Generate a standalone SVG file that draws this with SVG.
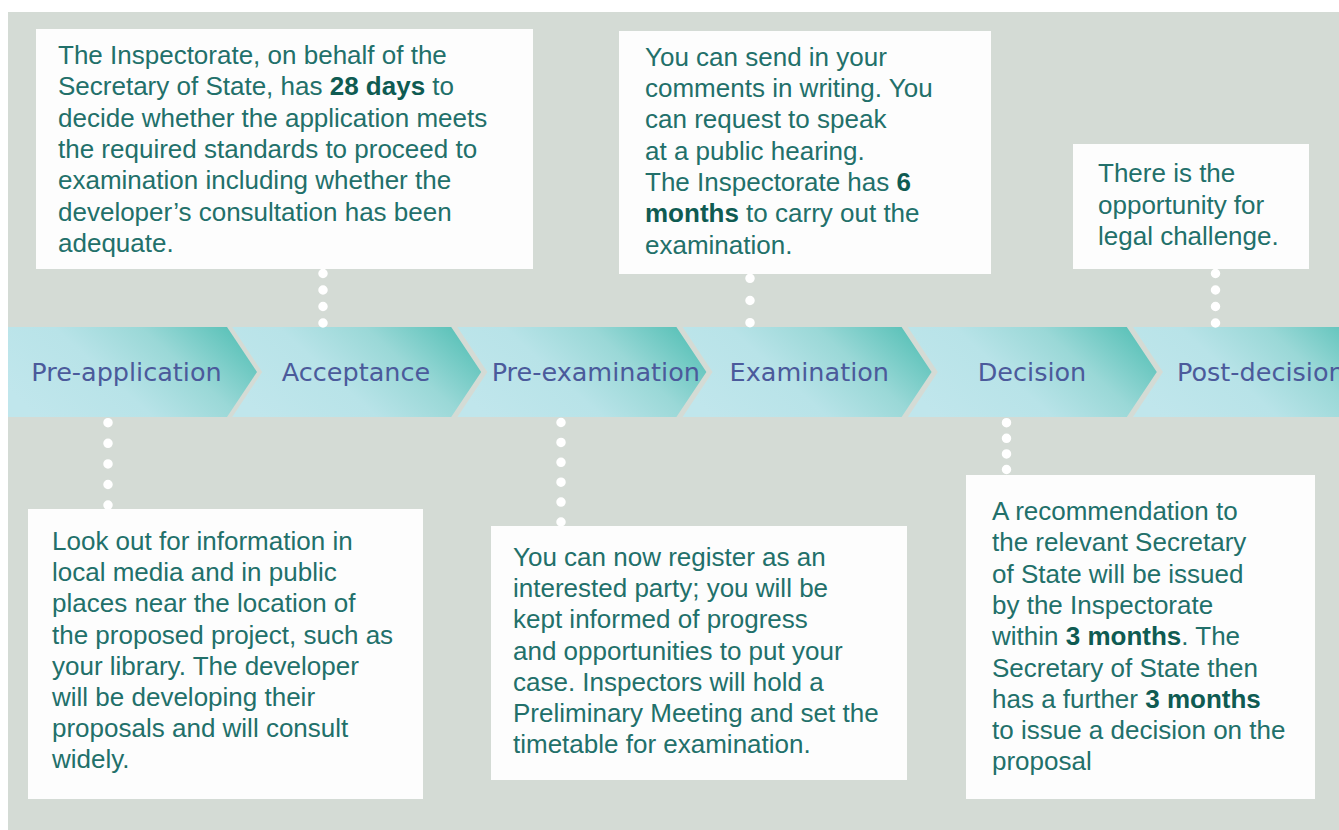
<svg xmlns="http://www.w3.org/2000/svg" width="1339" height="830" viewBox="0 0 1339 830">
<defs>
<linearGradient id="chev" x1="0" y1="0.7" x2="1" y2="0.3">
<stop offset="0" stop-color="#c0e6ec"/>
<stop offset="0.4" stop-color="#b8e3e8"/>
<stop offset="0.7" stop-color="#9ad8d7"/>
<stop offset="1" stop-color="#5ec3ba"/>
</linearGradient>
<style>
.bg{fill:#d4dbd5}
.chev{fill:url(#chev)}
.lbl{font-family:"DejaVu Sans",Verdana,sans-serif;font-size:25.5px;fill:#4b5a9b}
.box{fill:#fdfdfd}
.txt{font-family:"Liberation Sans",Arial,sans-serif;font-size:26px;fill:#22706a}
.b{font-weight:bold;fill:#0f5b52}
.dots{stroke:#ffffff;stroke-width:9.5;stroke-linecap:round;fill:none}
</style>
</defs>
<rect width="1339" height="830" fill="#ffffff"/>
<rect class="bg" x="8" y="12" width="1331" height="818"/>

<g id="stages">
<g id="stage-pre-application">
<path class="chev" d="M8,327 L227,327 L257,372 L227,417 L8,417 Z"/>
<text class="lbl" x="126.5" y="381" text-anchor="middle">Pre-application</text>
</g>
<g id="stage-acceptance">
<path class="chev" d="M232.2,327 L451.2,327 L481.2,372 L451.2,417 L232.2,417 L262.2,372 Z"/>
<text class="lbl" x="356" y="381" text-anchor="middle">Acceptance</text>
</g>
<g id="stage-pre-examination">
<path class="chev" d="M457.4,327 L676.4,327 L706.4,372 L676.4,417 L457.4,417 L487.4,372 Z"/>
<text class="lbl" x="595.8" y="381" text-anchor="middle">Pre-examination</text>
</g>
<g id="stage-examination">
<path class="chev" d="M682.6,327 L901.6,327 L931.6,372 L901.6,417 L682.6,417 L712.6,372 Z"/>
<text class="lbl" x="809.3" y="381" text-anchor="middle">Examination</text>
</g>
<g id="stage-decision">
<path class="chev" d="M907.8,327 L1126.8,327 L1156.8,372 L1126.8,417 L907.8,417 L937.8,372 Z"/>
<text class="lbl" x="1032" y="381" text-anchor="middle">Decision</text>
</g>
<g id="stage-post-decision">
<path class="chev" d="M1133,327 L1352,327 L1382,372 L1352,417 L1133,417 L1163,372 Z"/>
<text class="lbl" x="1177" y="381">Post-decision</text>
</g>
</g>

<g id="connectors">
<line class="dots" x1="323" y1="273.5" x2="323" y2="324" stroke-dasharray="0 16.5"/>
<line class="dots" x1="750" y1="278.3" x2="750" y2="323.5" stroke-dasharray="0 22.2"/>
<line class="dots" x1="1215.5" y1="273.5" x2="1215.5" y2="324" stroke-dasharray="0 16.5"/>
<line class="dots" x1="108" y1="422.7" x2="108" y2="506" stroke-dasharray="0 20.6"/>
<line class="dots" x1="561" y1="422.5" x2="561" y2="523" stroke-dasharray="0 19.9"/>
<line class="dots" x1="1006.5" y1="422.7" x2="1006.5" y2="470.5" stroke-dasharray="0 15.6"/>
</g>

<g id="note-acceptance">
<rect class="box" x="36" y="29" width="497" height="240"/>
<text class="txt" x="58" y="64">The Inspectorate, on behalf of the</text>
<text class="txt" x="58" y="95.3">Secretary of State, has <tspan class="b">28 days</tspan> to</text>
<text class="txt" x="58" y="126.6">decide whether the application meets</text>
<text class="txt" x="58" y="157.9">the required standards to proceed to</text>
<text class="txt" x="58" y="189.2">examination including whether the</text>
<text class="txt" x="58" y="220.5">developer’s consultation has been</text>
<text class="txt" x="58" y="251.8">adequate.</text>
</g>

<g id="note-examination">
<rect class="box" x="619" y="31" width="372" height="243"/>
<text class="txt" x="645" y="65.7">You can send in your</text>
<text class="txt" x="645" y="97">comments in writing. You</text>
<text class="txt" x="645" y="128.3">can request to speak</text>
<text class="txt" x="645" y="159.6">at a public hearing.</text>
<text class="txt" x="645" y="190.9">The Inspectorate has <tspan class="b">6</tspan></text>
<text class="txt" x="645" y="222.2"><tspan class="b">months</tspan> to carry out the</text>
<text class="txt" x="645" y="253.5">examination.</text>
</g>

<g id="note-post-decision">
<rect class="box" x="1073" y="144" width="236" height="125"/>
<text class="txt" x="1098" y="182.3">There is the</text>
<text class="txt" x="1098" y="213.6">opportunity for</text>
<text class="txt" x="1098" y="245">legal challenge.</text>
</g>

<g id="note-pre-application">
<rect class="box" x="28" y="509" width="395" height="290"/>
<text class="txt" x="52" y="550">Look out for information in</text>
<text class="txt" x="52" y="581.2">local media and in public</text>
<text class="txt" x="52" y="612.4">places near the location of</text>
<text class="txt" x="52" y="643.6">the proposed project, such as</text>
<text class="txt" x="52" y="674.8">your library. The developer</text>
<text class="txt" x="52" y="706">will be developing their</text>
<text class="txt" x="52" y="737.2">proposals and will consult</text>
<text class="txt" x="52" y="768.4">widely.</text>
</g>

<g id="note-pre-examination">
<rect class="box" x="491" y="526" width="416" height="254"/>
<text class="txt" x="513" y="566">You can now register as an</text>
<text class="txt" x="513" y="597.2">interested party; you will be</text>
<text class="txt" x="513" y="628.4">kept informed of progress</text>
<text class="txt" x="513" y="659.6">and opportunities to put your</text>
<text class="txt" x="513" y="690.8">case. Inspectors will hold a</text>
<text class="txt" x="513" y="722">Preliminary Meeting and set the</text>
<text class="txt" x="513" y="753.2">timetable for examination.</text>
</g>

<g id="note-decision">
<rect class="box" x="966" y="475" width="349" height="324"/>
<text class="txt" x="992" y="520">A recommendation to</text>
<text class="txt" x="992" y="551.3">the relevant Secretary</text>
<text class="txt" x="992" y="582.6">of State will be issued</text>
<text class="txt" x="992" y="613.9">by the Inspectorate</text>
<text class="txt" x="992" y="645.2">within <tspan class="b">3 months</tspan>. The</text>
<text class="txt" x="992" y="676.5">Secretary of State then</text>
<text class="txt" x="992" y="707.8">has a further <tspan class="b">3 months</tspan></text>
<text class="txt" x="992" y="739.1">to issue a decision on the</text>
<text class="txt" x="992" y="770.4">proposal</text>
</g>
</svg>
